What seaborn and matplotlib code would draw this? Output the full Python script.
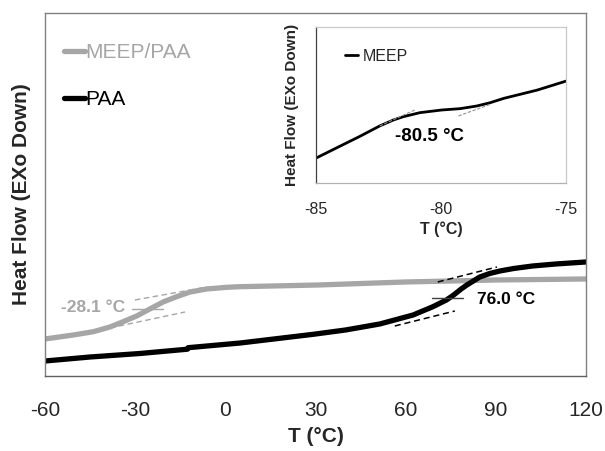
import numpy as np
import pandas as pd
import matplotlib
matplotlib.use("Agg")
import matplotlib.pyplot as plt
import seaborn as sns

# ---- data (heat flow in arbitrary units) ----
meep_paa_T = [-60, -50.6, -43.9, -38.4, -34.0, -29.5, -25.1, -20.7, -16.2, -11.7, -6.2, 0.5, 5, 31, 60, 90, 120]
meep_paa_H = [37, 41, 44.3, 49, 54.3, 60, 67, 74, 79.3, 84, 87, 88.7, 89.3, 91, 94, 96, 97]

paa_T = [-60, -45, -28.4, -12.6, -12.4, 5, 29.3, 40, 51.4, 62.5, 69.1, 73.6, 76, 78.5, 80.4, 84.7, 88, 91.4, 96, 102.3, 110, 120]
paa_H = [15, 19, 22.5, 26.8, 28.3, 33, 41.7, 46, 52, 61, 69.3, 76, 81, 87, 91, 99, 102.5, 105, 107.5, 110, 112, 114]

meep_T = [-85, -84.2, -83.26, -82.45, -81.9, -81.5, -80.84, -79.97, -79.24, -78.57, -78.03, -77.49, -76.15, -75]
meep_H = [75, 105, 140, 172, 190, 200, 212, 220, 224, 232, 242, 255, 280, 307]

main_xticks = [-60, -30, 0, 30, 60, 90, 120]
inset_xticks = [-85, -80, -75]

tg_paa = "76.0 °C"
tg_blend = "-28.1 °C"
tg_meep = "-80.5 °C"

GRAY = "#A6A6A6"

sns.set_theme(style="white")
plt.rcParams['font.family'] = ['Liberation Sans', 'DejaVu Sans']

fig = plt.figure(figsize=(6.05, 4.51), dpi=100)
ax = fig.add_axes([0.0744, 0.1663, 0.894, 0.805])

df_blend = pd.DataFrame({"T": meep_paa_T, "H": meep_paa_H})
df_paa = pd.DataFrame({"T": paa_T, "H": paa_H})
sns.lineplot(data=df_blend, x="T", y="H", ax=ax, color=GRAY, lw=3.8, label="MEEP/PAA")
sns.lineplot(data=df_paa, x="T", y="H", ax=ax, color="black", lw=3.8, label="PAA")

# tangent constructions
ax.plot([56.4, 76.4], [50, 65], ls=(0, (4, 2.5)), color="black", lw=1.1)
ax.plot([70.7, 90.4], [94, 109], ls=(0, (4, 2.5)), color="black", lw=1.1)
ax.plot([68.7, 79.1], [78, 78], color="#404040", lw=1.0)
ax.text(83.7, 76, tg_paa, fontsize=12.5, fontweight="bold", color="black", va="center", ha="left")

ax.plot([-30.1, -6.1], [76, 89], ls=(0, (4, 2.5)), color=GRAY, lw=1.0)
ax.plot([-38.4, -13.4], [48, 64], ls=(0, (4, 2.5)), color=GRAY, lw=1.0)
ax.plot([-31.1, -20.7], [67, 67], color=GRAY, lw=1.0)
ax.text(-33.5, 68, tg_blend, fontsize=12.5, fontweight="bold", color=GRAY, va="center", ha="right")

ax.set_xlim(-60, 120)
ax.set_ylim(0, 363)
ax.set_xticks(main_xticks)
ax.set_xticklabels([str(t) for t in main_xticks], fontsize=15)
ax.set_yticks([])
ax.tick_params(axis="x", direction="out", length=7, width=0.8, color="#A0A0A0", pad=11)
ax.set_xlabel("T (°C)", fontsize=15, fontweight="bold", labelpad=5)
ax.set_ylabel("Heat Flow (EXo Down)", fontsize=15, fontweight="bold", labelpad=10)
for s in ax.spines.values():
    s.set_color("#808080")
    s.set_linewidth(1.0)
ax.spines["bottom"].set_color("#606060")

leg = ax.legend(loc="upper left", bbox_to_anchor=(0.02, 0.94), frameon=False, fontsize=15,
                handlelength=1.0, handletextpad=0.0, labelspacing=1.35, borderaxespad=0)
for t, c in zip(leg.get_texts(), [GRAY, "black"]):
    t.set_color(c)

# ---- inset ----
ins = fig.add_axes([0.5223, 0.5942, 0.4132, 0.3459])
df_meep = pd.DataFrame({"T": meep_T, "H": meep_H})
sns.lineplot(data=df_meep, x="T", y="H", ax=ins, color="black", lw=2.0, label="MEEP")
ins.plot([-82.45, -81.05], [172, 220], ls=(0, (3, 1.5)), color="#909090", lw=0.8)
ins.plot([-79.3, -78.03], [202, 237], ls=(0, (3, 1.5)), color="#909090", lw=0.8)
ins.text(-80.44, 140, tg_meep, fontsize=13.5, fontweight="bold", color="black", ha="center", va="center")
ins.set_xlim(-85, -75)
ins.set_ylim(0, 470)
ins.set_xticks(inset_xticks)
ins.set_xticklabels([str(t) for t in inset_xticks], fontsize=11.5)
ins.set_yticks([])
ins.tick_params(axis="x", direction="out", length=5, width=0.8, color="#B0B0B0", pad=9)
ins.set_xlabel("T (°C)", fontsize=11.5, fontweight="bold", labelpad=3)
ins.set_ylabel("Heat Flow (EXo Down)", fontsize=11, fontweight="bold", labelpad=12)
for s in ins.spines.values():
    s.set_color("#C8C8C8")
    s.set_linewidth(0.9)
ins.spines["left"].set_color("#404040")
ins.spines["bottom"].set_color("#B0B0B0")
leg2 = ins.legend(loc="upper left", bbox_to_anchor=(0.09, 0.90), frameon=False, fontsize=11.5,
                  handlelength=0.8, handletextpad=0.3, borderaxespad=0)

fig.savefig("out.png", dpi=100)
